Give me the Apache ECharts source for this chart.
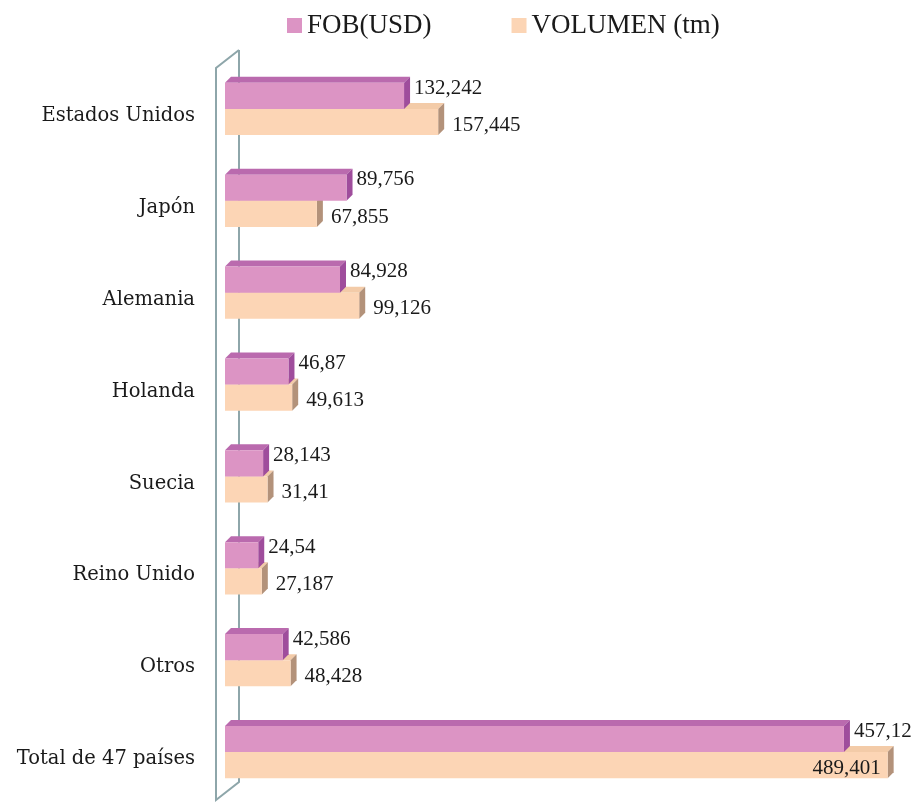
<!DOCTYPE html>
<html><head><meta charset="utf-8">
<script src="https://cdn.jsdelivr.net/npm/echarts@6/dist/echarts.min.js"></script>
<style>html,body{margin:0;padding:0;background:#fff}#c{width:914px;height:804px}</style>
</head><body><div id="c"></div>
<script>
const categories = ['Estados Unidos','Japón','Alemania','Holanda','Suecia','Reino Unido','Otros','Total de 47 países'];
const fobUSD = [132.242, 89.756, 84.928, 46.87, 28.143, 24.54, 42.586, 457.12];
const volumenTm = [157.445, 67.855, 99.126, 49.613, 31.41, 27.187, 48.428, 489.401];
const seriesNames = ['FOB(USD)', 'VOLUMEN (tm)'];

const chart = echarts.init(document.getElementById('c'), null, {renderer:'canvas'});
const W = 914;
const labelFont = '21px "Liberation Serif"';
const mctx = document.createElement('canvas').getContext('2d');
function textW(s){ mctx.font = labelFont; return mctx.measureText(s).width; }
function fmt(v){ return String(v).replace('.', ','); }

const styles = [
  {front:'#DC94C4', top:'#BA6AAE', side:'#9F4D9C'},
  {front:'#FCD5B5', top:'#F3CBA8', side:'#B3927A'}
];
const D = 6;

function makeRender(si){
  return function(params, api){
    const v = api.value(0), ci = api.value(1);
    const p0 = api.coord([0, ci]);
    const p1 = api.coord([v, ci]);
    const band = api.size([0,1])[1];
    const h = band*0.285;
    const c = p0[1];
    const y0 = si===0 ? c-h : c;
    const y1 = y0 + h;
    const x0 = p0[0], x1 = p1[0];
    const st = styles[si];
    const children = [
      {type:'polygon', shape:{points:[[x0,y0],[x0+D,y0-D],[x1+D,y0-D],[x1,y0]]}, style:{fill:st.top}},
      {type:'polygon', shape:{points:[[x1,y0],[x1+D,y0-D],[x1+D,y1-D],[x1,y1]]}, style:{fill:st.side}},
      {type:'rect', shape:{x:x0,y:y0,width:x1-x0,height:h}, style:{fill:st.front}}
    ];
    const txt = fmt(v);
    const tw = textW(txt);
    let tx, align;
    if (x1 + D + 6 + tw > W + 4) { tx = x1 - 7; align = 'right'; }
    else { tx = x1 + D + 4 + (si===1 ? 4 : 0); align = 'left'; }
    const ty = si===0 ? y0 + h*0.2 : y0 + h*0.62;
    children.push({type:'text', style:{text:txt, x:tx, y:ty, align:align, verticalAlign:'middle', font:labelFont, fill:'#1a1a1a'}});
    return {type:'group', children:children};
  };
}

const option = {
  backgroundColor:'#fff',
  animation:false,
  legend:{
    data:seriesNames, left:282, top:7, icon:'rect', itemWidth:15, itemHeight:15, itemGap:80,
    textStyle:{fontFamily:'Liberation Serif', fontSize:27, color:'#1a1a1a'}
  },
  grid:{left:225, right:12, top:63, bottom:6, containLabel:false},
  xAxis:{type:'value', min:0, max:500, show:false},
  yAxis:{type:'category', data:categories, inverse:true,
    axisLine:{show:false}, axisTick:{show:false}, splitLine:{show:false},
    axisLabel:{fontFamily:'DejaVu Serif', fontSize:19.5, color:'#1a1a1a', margin:30,
      verticalAlign:'top', lineHeight:14}
  },
  graphic:[
    {type:'polyline', z:0, shape:{points:[[239,50],[239,782],[216,800],[216,68],[239,50]]},
     style:{stroke:'#8ea6aa', lineWidth:2, fill:null}}
  ],
  series:[
    {type:'custom', name:seriesNames[0], z:3, itemStyle:{color:'#DC94C4'},
     encode:{x:0, y:1}, renderItem:makeRender(0),
     data:fobUSD.map((v,i)=>[v,i])},
    {type:'custom', name:seriesNames[1], z:2, itemStyle:{color:'#FCD5B5'},
     encode:{x:0, y:1}, renderItem:makeRender(1),
     data:volumenTm.map((v,i)=>[v,i])}
  ]
};
chart.setOption(option);
</script></body></html>
